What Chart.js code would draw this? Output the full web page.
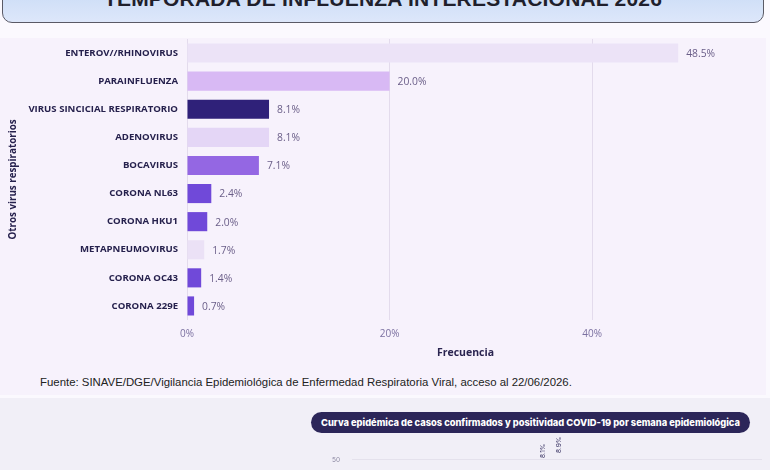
<!DOCTYPE html>
<html>
<head>
<meta charset="utf-8">
<script src="https://cdn.jsdelivr.net/npm/chart.js@4.4.1/dist/chart.umd.min.js"></script>
<style>
  html, body { margin: 0; padding: 0; }
  body { width: 770px; height: 470px; overflow: hidden; position: relative; background: #f1eff7; font-family: "Open Sans", sans-serif; }
  #top { position: absolute; left: 0; top: 0; width: 770px; height: 398px; background: #fbf9fe; }
  #banner { position: absolute; left: 2px; top: -14px; width: 760px; height: 35px; border: 1.5px solid #5a5a66; border-radius: 10px;
            background: linear-gradient(180deg, #c9dbf6, #dde7fa); overflow: hidden; }
  #banner span { position: absolute; left: 0; right: 0; top: 0px; text-align: center; font-family: "Liberation Sans", Arial, sans-serif;
                 font-weight: bold; font-size: 21px; color: #1f1f2c; letter-spacing: 0.2px; }
  #panel { position: absolute; left: 0; top: 38px; width: 766px; height: 357px; background: #f7f2fc; }
  #c1 { position: absolute; left: 0; top: 30px; }
  #src { position: absolute; left: 40px; top: 376px; font-family: "Liberation Sans", Arial, sans-serif; font-size: 11.4px; color: #222; }
  #pill { position: absolute; left: 311px; top: 412px; width: 439px; height: 21px; border-radius: 11px; background: #2c2659;
          color: #fff; font-family: Inter, sans-serif; font-weight: 800; font-size: 9.3px; line-height: 21px; text-align: center; }
  #c2 { position: absolute; left: 312px; top: 436px; }
  .rot { position: absolute; font-family: Inter, sans-serif; font-size: 6.5px; color: #3b3565; transform: rotate(-90deg); transform-origin: left top; }
</style>
</head>
<body>
<div id="top"></div>
<div id="banner"><span>TEMPORADA DE INFLUENZA INTERESTACIONAL 2026</span></div>
<div id="panel"></div>
<canvas id="c1" width="770" height="335"></canvas>
<div id="src">Fuente: SINAVE/DGE/Vigilancia Epidemiológica de Enfermedad Respiratoria Viral, acceso al 22/06/2026.</div>
<div id="pill">Curva epidémica de casos confirmados y positividad COVID-19 por semana epidemiológica</div>
<canvas id="c2" width="450" height="120"></canvas>
<div class="rot" style="left:539px; top:458px;">8.1%</div>
<div class="rot" style="left:555px; top:453px;">8.9%</div>
<script>
// Virus y frecuencia (%)
const virus = ['ENTEROV//RHINOVIRUS', 'PARAINFLUENZA', 'VIRUS SINCICIAL RESPIRATORIO', 'ADENOVIRUS', 'BOCAVIRUS',
               'CORONA NL63', 'CORONA HKU1', 'METAPNEUMOVIRUS', 'CORONA OC43', 'CORONA 229E'];
const frecuencia = [48.5, 20.0, 8.1, 8.1, 7.1, 2.4, 2.0, 1.7, 1.4, 0.7];
const colores = ['#ece3f7', '#d8b9f4', '#2f2179', '#e4d6f6', '#9467e3', '#7049d9', '#7049d9', '#ebe1f6', '#7049d9', '#7049d9'];
const ticksX = [0, 20, 40];

// etiquetas de valor al final de cada barra
const etiquetas = {
    id: 'etiquetas',
    afterDatasetsDraw(chart) {
        const ctx = chart.ctx;
        const meta = chart.getDatasetMeta(0);
        ctx.save();
        ctx.font = '10.3px "Open Sans"';
        ctx.fillStyle = '#6a5e88';
        ctx.textBaseline = 'middle';
        meta.data.forEach((bar, i) => {
            ctx.fillText(frecuencia[i].toFixed(1) + '%', bar.x + 8, bar.y + 1);
        });
        ctx.restore();
    }
};

new Chart(document.getElementById('c1'), {
    type: 'bar',
    data: {
        labels: virus,
        datasets: [{
            data: frecuencia,
            backgroundColor: colores,
            barPercentage: 0.68,
            categoryPercentage: 1
        }]
    },
    options: {
        indexAxis: 'y',
        responsive: false,
        animation: false,
        layout: { padding: { left: 4, top: 9, right: 26, bottom: 0 } },
        plugins: { legend: { display: false }, tooltip: { enabled: false } },
        scales: {
            x: {
                min: 0, max: 55,
                afterBuildTicks: (axis) => { axis.ticks = ticksX.map(v => ({ value: v })); },
                afterFit: (axis) => { axis.height = 45; },
                grid: { color: '#e3dbec', drawTicks: false },
                border: { display: false },
                ticks: { callback: v => v + '%', color: '#7b70a0', font: { size: 10, family: 'Open Sans' }, padding: 8 },
                title: { display: true, text: 'Frecuencia', color: '#2a2450', font: { size: 10.5, weight: 'bold', family: 'Open Sans' }, padding: { top: 0, bottom: 6 } }
            },
            y: {
                afterFit: (axis) => { axis.width = 183; },
                grid: { display: false },
                border: { display: false },
                ticks: { color: '#26214d', font: { size: 9.6, weight: 'bold', family: 'Open Sans' }, padding: 1 },
                title: { display: true, text: 'Otros virus respiratorios', color: '#26214d', font: { size: 9.8, weight: 'bold', family: 'Open Sans' }, padding: 3 }
            }
        }
    },
    plugins: [etiquetas]
});

// gráfico inferior (solo se ve el eje en 50)
const ticksY2 = [0, 10, 20, 30, 40, 50];
new Chart(document.getElementById('c2'), {
    type: 'line',
    data: { labels: [], datasets: [] },
    options: {
        responsive: false,
        animation: false,
        plugins: { legend: { display: false } },
        layout: { padding: { top: 0, right: 0 } },
        scales: {
            x: { display: false },
            y: {
                min: 0, max: 55,
                afterBuildTicks: (axis) => { axis.ticks = ticksY2.map(v => ({ value: v })); },
                afterFit: (axis) => { axis.width = 40; },
                grid: { color: '#e4e1ec', drawTicks: false },
                border: { display: false },
                ticks: { color: '#8a86a0', font: { size: 6.5, family: 'Inter' }, padding: 12 }
            }
        }
    }
});
</script>
</body>
</html>
